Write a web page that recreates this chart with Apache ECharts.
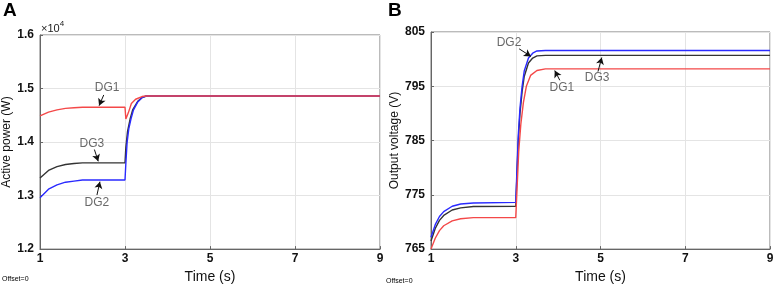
<!DOCTYPE html>
<html><head><meta charset="utf-8">
<script src="https://cdn.jsdelivr.net/npm/echarts@6/dist/echarts.min.js"></script>
<style>html,body{margin:0;padding:0;background:#fff}#c{width:782px;height:289px}</style>
</head><body><div id="c"></div>
<script>
// ---------- Panel A: active power (W) ----------
const pT_DG1 = [1.0,1.2,1.4,1.6,1.8,2.0,3.0,3.02,3.05,3.08,3.15,3.25,3.4,3.5,9.0];
const pV_DG1 = [14490,14560,14600,14630,14640,14650,14650,14430,14440,14550,14720,14800,14850,14860,14860];
const pT_DG2 = [1.0,1.2,1.4,1.6,1.8,2.0,3.0,3.02,3.05,3.09,3.14,3.2,3.3,3.4,3.5,9.0];
const pV_DG2 = [12960,13120,13200,13250,13270,13290,13290,13600,14000,14250,14430,14600,14750,14830,14860,14860];
const pT_DG3 = [1.0,1.2,1.4,1.6,1.8,2.0,3.0,3.02,3.06,3.12,3.18,3.3,3.4,3.5,9.0];
const pV_DG3 = [13330,13470,13540,13580,13600,13610,13610,13900,14200,14430,14600,14760,14830,14860,14860];
const pTicksX = [1,3,5,7,9];
const pTicksY = ['1.2','1.3','1.4','1.5','1.6'];

// ---------- Panel B: output voltage (V) ----------
const vT_DG1 = [1.0,1.1,1.2,1.3,1.5,1.7,2.0,3.0,3.03,3.07,3.12,3.18,3.25,3.35,3.5,3.7,9.0];
const vV_DG1 = [765.0,767.0,768.4,769.3,770.2,770.6,770.8,770.8,776,783,788,792,795,797,797.9,798.2,798.2];
const vT_DG2 = [1.0,1.1,1.2,1.3,1.5,1.7,2.0,3.0,3.03,3.06,3.1,3.15,3.2,3.3,3.4,3.5,3.7,9.0];
const vV_DG2 = [767.2,769.5,771.0,771.9,772.9,773.3,773.5,773.6,780,786,791,795,797.8,800.2,801.1,801.5,801.6,801.6];
const vT_DG3 = [1.0,1.1,1.2,1.3,1.5,1.7,2.0,3.0,3.03,3.06,3.1,3.15,3.2,3.3,3.4,3.5,3.7,9.0];
const vV_DG3 = [766.5,768.8,770.3,771.2,772.2,772.6,772.85,772.9,779,785,790,794,796.8,799.3,800.2,800.6,800.7,800.7];
const vTicksX = [1,3,5,7,9];
const vTicksY = ['765','775','785','795','805'];

// annotations: [label, textT, textV, arrowFromT, arrowFromV, arrowToT, arrowToV]
const annA = [
  ['DG1', 2.58, 15010, 2.5, 14880, 2.39, 14680],
  ['DG3', 2.22, 13975, 2.28, 13860, 2.37, 13640],
  ['DG2', 2.34, 12860, 2.34, 13010, 2.41, 13260]
];
const annB = [
  ['DG2', 2.84, 803.0, 3.08, 801.9, 3.36, 800.5],
  ['DG1', 4.09, 794.8, 4.04, 796.1, 3.92, 797.9],
  ['DG3', 4.92, 796.5, 4.94, 797.7, 5.03, 800.3]
];

const RED = '#f44848', BLUE = '#2a2aff', BLK = '#333333';
const zip = (t, v) => t.map((x, i) => [x, v[i]]);
const FONT = 'Liberation Sans';

function axisX(grid) {
  return {
    type: 'value', gridIndex: grid, min: 1, max: 9, interval: 2,
    name: 'Time (s)', nameLocation: 'middle', nameGap: 14,
    nameTextStyle: { fontFamily: FONT, fontSize: 14, color: '#111' },
    axisLine: { show: true, lineStyle: { color: '#666', width: 1 } },
    axisTick: { show: true, inside: true, length: 3, lineStyle: { color: '#666' } },
    axisLabel: { fontFamily: FONT, fontSize: 12, fontWeight: 'bold', color: '#111', margin: 4 },
    splitLine: { show: true, lineStyle: { color: '#e4e4e4', width: 1 } }
  };
}
function axisY(grid, min, max, interval, name, fmt) {
  return {
    type: 'value', gridIndex: grid, min: min, max: max, interval: interval,
    name: name, nameLocation: 'middle', nameGap: 27,
    nameTextStyle: { fontFamily: FONT, fontSize: 12, color: '#111' },
    axisLine: { show: true, lineStyle: { color: '#666', width: 1 } },
    axisTick: { show: true, inside: true, length: 3, lineStyle: { color: '#666' } },
    axisLabel: { fontFamily: FONT, fontSize: 12, fontWeight: 'bold', color: '#111', margin: 6, formatter: fmt },
    splitLine: { show: true, lineStyle: { color: '#e4e4e4', width: 1 } }
  };
}
function line(x, y, data, color) {
  return { type: 'line', xAxisIndex: x, yAxisIndex: y, data: data, showSymbol: false, symbol: 'none',
    lineStyle: { color: color, width: 1.4 }, itemStyle: { color: color }, animation: false, z: 3 };
}
function annSeries(idx, ann) {
  return {
    type: 'scatter', xAxisIndex: idx, yAxisIndex: idx, symbolSize: 0, animation: false, z: 5,
    data: ann.map(a => ({ value: [a[1], a[2]], name: a[0] })),
    label: { show: true, position: 'inside', formatter: p => p.name, fontFamily: FONT, fontSize: 12, color: '#444' },
    markLine: {
      silent: true, animation: false, symbol: ['none', 'arrow'], symbolSize: [6, 7],
      lineStyle: { color: '#111', width: 1, type: 'solid' }, label: { show: false },
      data: ann.map(a => [{ coord: [a[3], a[4]] }, { coord: [a[5], a[6]] }])
    }
  };
}

const chart = echarts.init(document.getElementById('c'), null, { renderer: 'canvas' });
chart.setOption({
  animation: false,
  textStyle: { fontFamily: FONT },
  grid: [
    { left: 40, top: 35, width: 340, height: 217, show: true, borderColor: '#777', borderWidth: 1 },
    { left: 431, top: 32, width: 339, height: 219, show: true, borderColor: '#777', borderWidth: 1 }
  ],
  xAxis: [axisX(0), axisX(1)],
  yAxis: [
    axisY(0, 12000, 16000, 1000, 'Active power (W)', v => (v / 10000).toFixed(1)),
    axisY(1, 765, 805, 10, 'Output voltage (V)', v => String(v))
  ],
  series: [
    line(0, 0, zip(pT_DG3, pV_DG3), BLK),
    line(0, 0, zip(pT_DG2, pV_DG2), BLUE),
    line(0, 0, zip(pT_DG1, pV_DG1), RED),
    line(1, 1, zip(vT_DG3, vV_DG3), BLK),
    line(1, 1, zip(vT_DG2, vV_DG2), BLUE),
    line(1, 1, zip(vT_DG1, vV_DG1), RED),
    annSeries(0, annA),
    annSeries(1, annB)
  ],
  graphic: [
    { type: 'text', left: 3, top: 1, style: { text: 'A', font: 'bold 19px "Liberation Sans"', fill: '#000' } },
    { type: 'text', left: 388, top: 1, style: { text: 'B', font: 'bold 19px "Liberation Sans"', fill: '#000' } },
    { type: 'text', left: 41, top: 20, style: {
        text: '{a|×10}{b|4}', rich: {
          a: { fontFamily: FONT, fontSize: 11, fill: '#222', verticalAlign: 'bottom' },
          b: { fontFamily: FONT, fontSize: 8, fill: '#222', verticalAlign: 'top', padding: [0, 0, 6, 0] }
        } } },
    { type: 'text', left: 2, top: 276, style: { text: 'Offset=0', font: '7px "Liberation Sans"', fill: '#000' } },
    { type: 'text', left: 386, top: 278, style: { text: 'Offset=0', font: '7px "Liberation Sans"', fill: '#000' } }
  ]
});
</script>
</body></html>
